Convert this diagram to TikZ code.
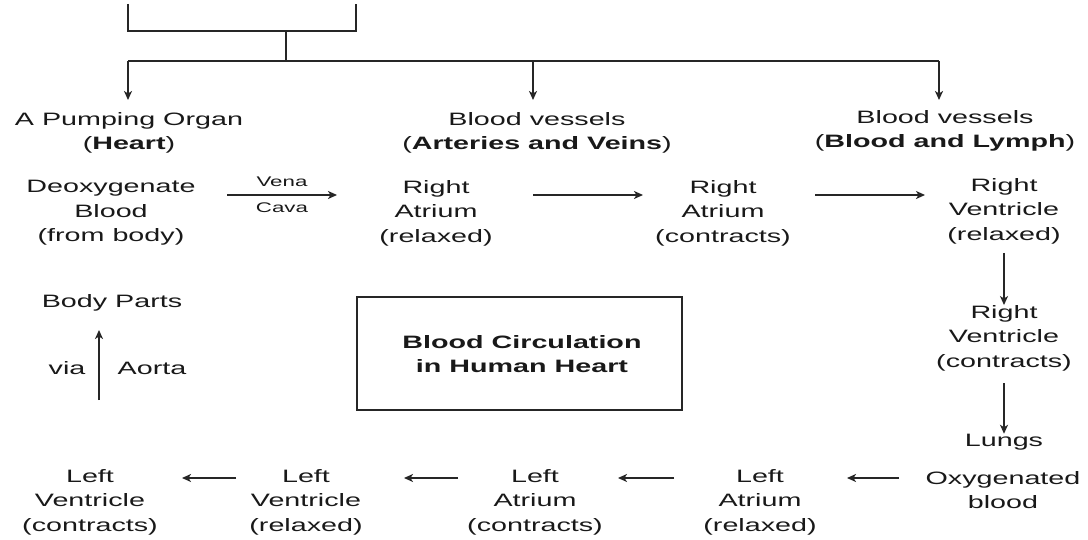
\documentclass[tikz,border=0pt]{standalone}
\usepackage{fontspec}
\setmainfont{Liberation Sans}
\usetikzlibrary{arrows.meta}
\begin{document}
\begin{tikzpicture}[x=1bp,y=-1bp,
  txt/.style={align=center, inner sep=0pt, font=\fontsize{18}{24.5}\selectfont, xscale=1.6, text=black!90},
  small/.style={inner sep=0pt, font=\fontsize{14}{16}\selectfont, xscale=1.6, text=black!90},
  ln/.style={line width=1.8bp, draw=black!85},
  arr/.style={ln, -{Stealth[length=9bp,width=8bp,inset=2.5bp]}}]
\useasboundingbox[fill=white] (0,0) rectangle (1088,540);

% top bracket
\coordinate (bl) at (128,4);
\coordinate (br) at (356,4);
\coordinate (bs) at (286,31);
\coordinate (hj) at (286,61);
\coordinate (t1) at (128,61);
\coordinate (t2) at (533,61);
\coordinate (t3) at (939,61);
\draw[ln] (bl) |- (br |- bs) -- (br);
\draw[ln] (bs) -- (hj);
\draw[ln] (t1) -- (t3);

% headers
\node[txt] (h1) at (129,133) {A Pumping Organ\\(\textbf{Heart})};
\node[txt] (h2) at (537,133) {Blood vessels\\(\textbf{Arteries and Veins})};
\node[txt] (h3) at (945,131) {Blood vessels\\(\textbf{Blood and Lymph})};
\draw[arr] (t1) -- (t1 |- 0,100);
\draw[arr] (t2) -- (t2 |- 0,100);
\draw[arr] (t3) -- (t3 |- 0,100);

% row 2
\node[txt] (deoxy) at (111,213) {Deoxygenate\\Blood\\(from body)};
\node[txt] (ra1) at (436,213) {Right\\Atrium\\(relaxed)};
\node[txt] (ra2) at (723,213) {Right\\Atrium\\(contracts)};
\node[txt] (rv1) at (1004,211) {Right\\Ventricle\\(relaxed)};
\node[small] (vena) at (282,182) {Vena};
\node[small] (cava) at (282,208) {Cava};
\draw[arr] (ra1) ++(-209,-18) -- ++(110,0);
\draw[arr] (ra1) ++(97,-18) -- ++(110,0);
\draw[arr] (ra2) ++(92,-18) -- ++(110,0);

% right column
\node[txt] (rv2) at (1004,338) {Right\\Ventricle\\(contracts)};
\node[txt] (lungs) at (1004,442) {Lungs};
\draw[arr] (rv1) ++(0,42) -- (rv2.north);
\draw[arr] (rv2) ++(0,45) -- (lungs.north);

% bottom row
\node[txt] (oxy) at (1003,490) {Oxygenated\\blood};
\node[txt] (la1) at (760,502) {Left\\Atrium\\(relaxed)};
\node[txt] (la2) at (535,502) {Left\\Atrium\\(contracts)};
\node[txt] (lv1) at (306,502) {Left\\Ventricle\\(relaxed)};
\node[txt] (lv2) at (90,502) {Left\\Ventricle\\(contracts)};
\draw[arr] (oxy) ++(-104,-12) -- ++(-52,0);
\draw[arr] (la1) ++(-86,-24) -- ++(-56,0);
\draw[arr] (la2) ++(-77,-24) -- ++(-54,0);
\draw[arr] (lv1) ++(-70,-24) -- ++(-54,0);

% body parts
\node[txt] (body) at (112,303) {Body Parts};
\node[txt] (via) at (67,368) {via};
\node[txt] (aorta) at (152,368) {Aorta};
\coordinate (ao) at (99,400);
\draw[arr] (ao) -- (ao |- 0,330);

% central box
\draw[ln] (357,297) rectangle (682,410);
\node[txt, font=\fontsize{18}{24.5}\selectfont\bfseries] (title) at (522,354) {Blood Circulation\\in Human Heart};
\end{tikzpicture}
\end{document}
